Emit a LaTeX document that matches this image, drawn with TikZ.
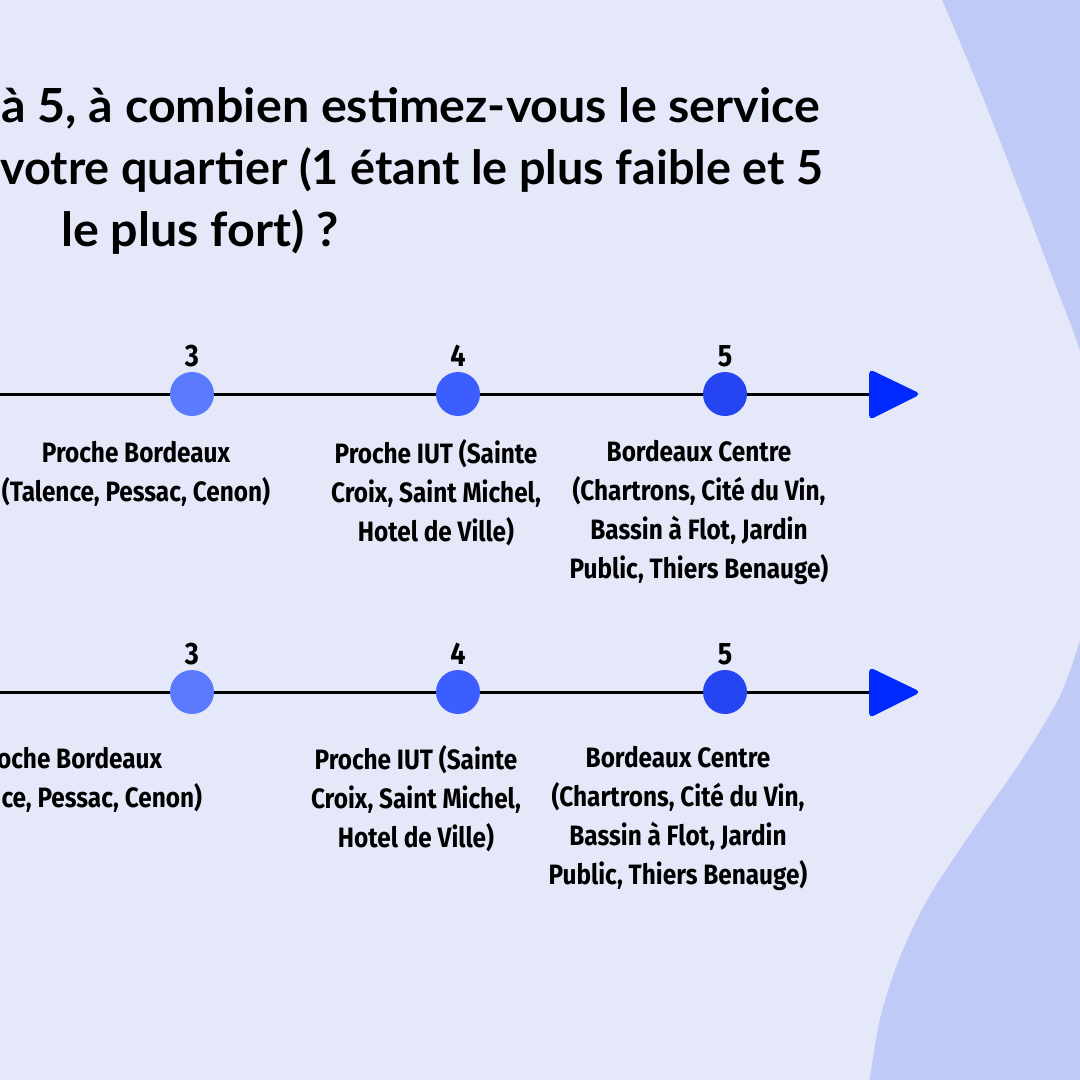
\documentclass[tikz,border=0pt]{standalone}
\usepackage{fontspec}
\setmainfont{Lato}
\newfontfamily\titlefont[FakeStretch=1.03]{Lato}
\newfontfamily\labfont[FakeStretch=0.87]{Fira Sans}
\definecolor{bgc}{HTML}{E4E8F8}
\definecolor{wavec}{HTML}{C0CAF6}
\definecolor{cthree}{HTML}{5B7BFF}
\definecolor{cfour}{HTML}{3D5EFF}
\definecolor{cfive}{HTML}{2544F2}
\definecolor{arrowc}{HTML}{0029FF}
\tikzset{
  titletext/.style={font=\titlefont\bfseries\fontsize{47}{62}\selectfont, inner sep=0pt, text=black},
  lab/.style={font=\labfont\bfseries\fontsize{28}{39}\selectfont, align=center, inner sep=0pt, text=black},
  num/.style={font=\labfont\bfseries\fontsize{31}{32}\selectfont, inner sep=0pt, text=black},
  dot/.style={circle, minimum size=44pt, inner sep=0pt},
  axis/.style={line width=3pt, black},
  tiphead/.style={fill=arrowc, rounded corners=5pt}
}
\begin{document}
\begin{tikzpicture}[x=1pt,y=-1pt]
\useasboundingbox (0,0) rectangle (1080,1080);
\clip (0,0) rectangle (1080,1080);
\fill[bgc] (0,0) rectangle (1080,1080);
\fill[wavec] plot[smooth] coordinates {(940,-5) (980,90) (1023,200) (1057,289) (1080,351) (1095,420) (1100,500) (1090,600) (1080,640) (1060,696) (1023,758) (980,820) (930,895) (900,957) (880,1019) (868,1090)} -- (1150,1090) -- (1150,-5) -- cycle;

% title
\node[titletext, anchor=west] (t1) at (1,108) {à 5, à combien estimez-vous le service};
\node[titletext, anchor=west] (t2) at (0,170) {\scalebox{0.966}[1]{votre quartier (1 étant le plus faible et 5}};
\node[titletext] (t3) at (200,232) {le plus fort) ?};

% row 1
\coordinate (s1) at (0,394);
\coordinate (e1) at (872,394);
\node[dot, fill=cthree] (a3) at (192,394) {};
\node[dot, fill=cfour] (a4) at (458,394) {};
\node[dot, fill=cfive] (a5) at (725,394) {};
\draw[axis] (s1) -- (a3) (a3) -- (a4) (a4) -- (a5) (a5) -- (e1);
\fill[tiphead] (869,369) -- (921,394) -- (869,420) -- cycle;
\node[num] (n13) at (192,356) {3};
\node[num] (n14) at (458,356) {4};
\node[num] (n15) at (725,356) {5};
\node[lab] (l13) at (136,473.5) {Proche Bordeaux\\(Talence, Pessac, Cenon)};
\node[lab] (l14) at (436,493) {Proche IUT (Sainte\\Croix, Saint Michel,\\Hotel de Ville)};
\node[lab] (l15) at (699,512.5) {Bordeaux Centre\\(Chartrons, Cité du Vin,\\Bassin à Flot, Jardin\\Public, Thiers Benauge)};

% row 2
\coordinate (s2) at (0,692);
\coordinate (e2) at (872,692);
\node[dot, fill=cthree] (b3) at (192,692) {};
\node[dot, fill=cfour] (b4) at (458,692) {};
\node[dot, fill=cfive] (b5) at (725,692) {};
\draw[axis] (s2) -- (b3) (b3) -- (b4) (b4) -- (b5) (b5) -- (e2);
\fill[tiphead] (869,667) -- (921,692) -- (869,718) -- cycle;
\node[num] (n23) at (192,654) {3};
\node[num] (n24) at (458,654) {4};
\node[num] (n25) at (725,654) {5};
\node[lab] (l23) at (68,779.5) {Proche Bordeaux\\(Talence, Pessac, Cenon)};
\node[lab] (l24) at (416,799) {Proche IUT (Sainte\\Croix, Saint Michel,\\Hotel de Ville)};
\node[lab] (l25) at (678,818.5) {Bordeaux Centre\\(Chartrons, Cité du Vin,\\Bassin à Flot, Jardin\\Public, Thiers Benauge)};
\end{tikzpicture}
\end{document}
